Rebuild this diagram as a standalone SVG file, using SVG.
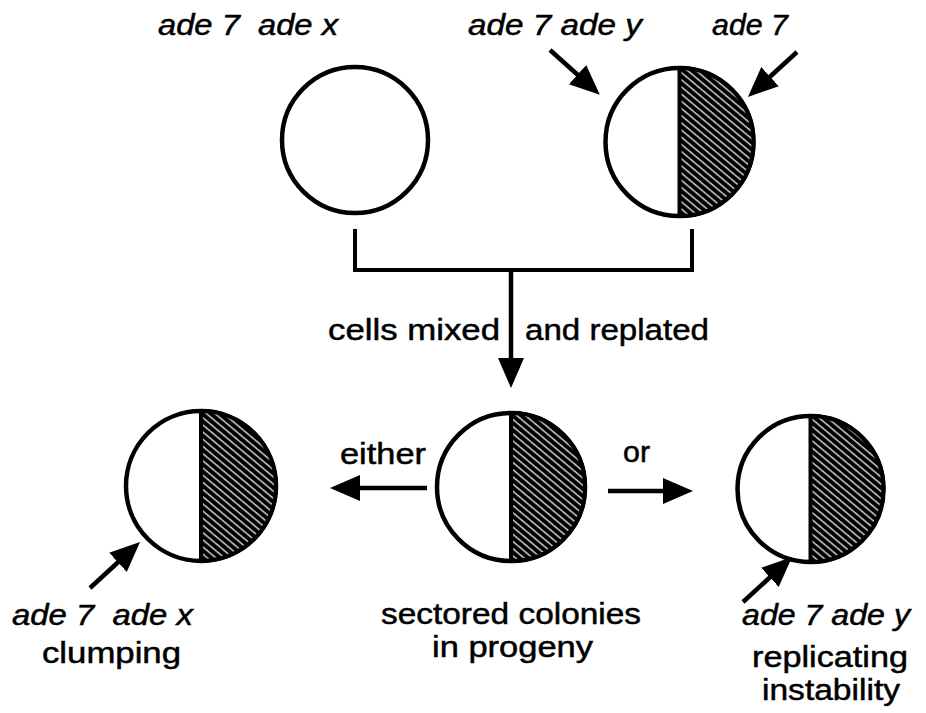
<svg xmlns="http://www.w3.org/2000/svg" width="926" height="713" viewBox="0 0 926 713">
<style>
  .cell { fill: #fff; stroke: #000; stroke-width: 4.5; }
  .sector { fill: url(#hatch); stroke: #000; stroke-width: 4; stroke-linejoin: round; }
  .line { fill: none; stroke: #000; stroke-width: 4; }
  .arrow { fill: none; stroke: #000; stroke-width: 4.5; marker-end: url(#head); }
  .t { font-family: "Liberation Sans", Arial, Helvetica, sans-serif; font-size: 30px; fill: #000; stroke: #000; stroke-width: 0.5; }
  .g { font-family: "Liberation Sans", Arial, Helvetica, sans-serif; font-size: 29px; font-style: italic; fill: #000; stroke: #000; stroke-width: 0.5; white-space: pre; }
</style>
<defs>
  <pattern id="hatch" patternUnits="userSpaceOnUse" width="5.5" height="5.5" patternTransform="rotate(40)">
    <rect width="5.5" height="5.5" fill="#000"/>
    <rect y="2" width="5.5" height="1.2" fill="#fff"/>
  </pattern>
  <marker id="head" markerUnits="userSpaceOnUse" markerWidth="34" markerHeight="30" viewBox="0 -15 34 30" refX="2" refY="0" orient="auto">
    <path d="M0,-13 L30,0 L0,13 Z" fill="#000"/>
  </marker>
</defs>
<rect width="926" height="713" fill="#fff"/>

<g id="cell-ade7-adex">
  <circle class="cell" cx="355" cy="140" r="73"/>
  <text class="g" x="158" y="35" textLength="180" lengthAdjust="spacingAndGlyphs">ade 7  ade x</text>
</g>

<g id="cell-ade7-adey-sectored">
  <circle class="cell" cx="679.5" cy="142" r="74"/>
  <path class="sector" d="M679.5,68 A74,74 0 0 1 679.5,216 Z"/>
  <text class="g" x="468" y="35" textLength="174" lengthAdjust="spacingAndGlyphs">ade 7 ade y</text>
  <text class="g" x="712" y="35" textLength="76" lengthAdjust="spacingAndGlyphs">ade 7</text>
</g>

<g id="colony-progeny">
  <circle class="cell" cx="511" cy="487" r="74"/>
  <path class="sector" d="M511,413 A74,74 0 0 1 511,561 Z"/>
  <text class="t" x="381" y="624" textLength="260" lengthAdjust="spacingAndGlyphs">sectored colonies</text>
  <text class="t" x="432" y="657" textLength="161" lengthAdjust="spacingAndGlyphs">in progeny</text>
</g>

<g id="colony-clumping">
  <circle class="cell" cx="201" cy="486" r="75"/>
  <path class="sector" d="M201,411 A75,75 0 0 1 201,561 Z"/>
  <text class="g" x="12" y="625" textLength="181" lengthAdjust="spacingAndGlyphs">ade 7  ade x</text>
  <text class="t" x="42" y="663" textLength="139" lengthAdjust="spacingAndGlyphs">clumping</text>
</g>

<g id="colony-replicating">
  <circle class="cell" cx="810.5" cy="489" r="73"/>
  <path class="sector" d="M810.5,416 A73,73 0 0 1 810.5,562 Z"/>
  <text class="g" x="742" y="625" textLength="168" lengthAdjust="spacingAndGlyphs">ade 7 ade y</text>
  <text class="t" x="752" y="667" textLength="156" lengthAdjust="spacingAndGlyphs">replicating</text>
  <text class="t" x="762" y="700" textLength="138" lengthAdjust="spacingAndGlyphs">instability</text>
</g>

<g id="connectors">
  <path class="line" d="M355,229 V270 H692 V229"/>
  <path class="arrow" d="M511,268 V360"/>
  <path class="arrow" d="M427,488 H358"/>
  <path class="arrow" d="M608,491 H665"/>
  <path class="arrow" d="M550,50 L579,76"/>
  <path class="arrow" d="M797,52 L768.6,78"/>
  <path class="arrow" d="M90,588 L119.4,561"/>
  <path class="arrow" d="M743,602 L771.4,576"/>
  <text class="t" x="328" y="340" textLength="172" lengthAdjust="spacingAndGlyphs">cells mixed</text>
  <text class="t" x="525" y="340" textLength="184" lengthAdjust="spacingAndGlyphs">and replated</text>
  <text class="t" x="340" y="464" textLength="86" lengthAdjust="spacingAndGlyphs">either</text>
  <text class="t" x="623" y="462" textLength="27" lengthAdjust="spacingAndGlyphs">or</text>
</g>
</svg>
